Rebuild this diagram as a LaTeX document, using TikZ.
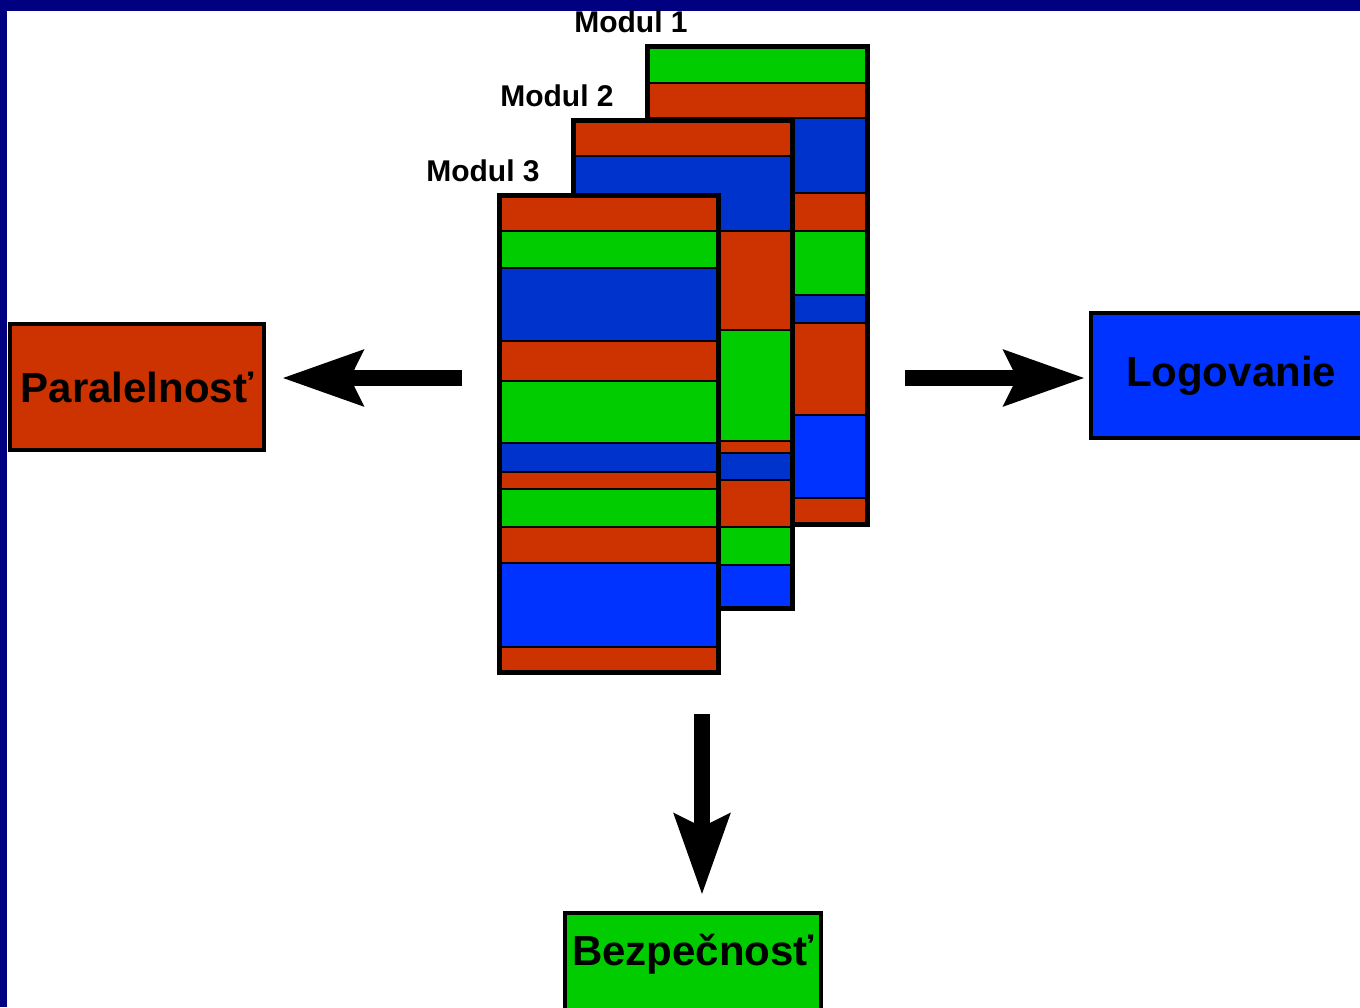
\documentclass[tikz,border=0pt]{standalone}
\usepackage{fontspec}
\setmainfont{Liberation Sans}
\usetikzlibrary{arrows.meta,positioning,calc}
\definecolor{modNavy}{HTML}{000080}
\definecolor{modRed}{HTML}{CC3300}
\definecolor{modGreen}{HTML}{00CC00}
\definecolor{modBlue}{HTML}{0033CC}
\definecolor{modBright}{HTML}{0033FF}

\begin{document}
\begin{tikzpicture}[x=0.5pt,y=-0.5pt,font=\bfseries,
  stripe/.style={draw=black,line width=1.3pt},
  modframe/.style={draw=black,line width=2.5pt,inner sep=0pt,outer sep=0pt,anchor=north west},
  modlabel/.style={font=\fontsize{15}{18}\selectfont\bfseries,anchor=east,inner sep=0pt},
  aspect/.style={draw=black,line width=2pt,inner sep=0pt,
                 font=\fontsize{21}{25}\selectfont\bfseries},
  bigarrow/.style={line width=8pt,-{Stealth[length=40pt,width=27pt,inset=6pt]}}]
  \useasboundingbox (0,0) rectangle (1360,1007);
  \clip (0,0) rectangle (1360,1007);
  \fill[white] (0,0) rectangle (1360,1007);
  \fill[modNavy] (0,0) rectangle (1360,11);
  \fill[modNavy] (0,0) rectangle (7,1007);

  % module stacks, back to front
  \foreach \ya/\yb/\c in {46.5/83/modGreen,83/118/modRed,118/193/modBlue,193/231/modRed,
      231/295/modGreen,295/323/modBlue,323/415/modRed,415/498/modBright,498/524.5/modRed}
    \draw[stripe,fill=\c] (647.5,\ya) rectangle (867.5,\yb);
  \node[modframe,minimum width=110pt,minimum height=239pt] (m1) at (647.5,46.5) {};
  \node[modlabel] (lab1) at ($(m1.north west)+(40.5,-24.5)$) {Modul 1};

  \foreach \ya/\yb/\c in {120.5/156/modRed,156/231/modBlue,231/330/modRed,330/441/modGreen,
      441/453/modRed,453/480/modBlue,480/527/modRed,527/565/modGreen,565/608.5/modBright}
    \draw[stripe,fill=\c] (573.5,\ya) rectangle (792.5,\yb);
  \node[modframe,minimum width=109.5pt,minimum height=244pt] (m2) at (573.5,120.5) {};
  \node[modlabel] (lab2) at ($(m2.north west)+(40.5,-24.5)$) {Modul 2};

  \foreach \ya/\yb/\c in {195.5/231/modRed,231/268/modGreen,268/341/modBlue,341/381/modRed,
      381/443/modGreen,443/472/modBlue,472/489/modRed,489/527/modGreen,527/563/modRed,
      563/647/modBright,647/672.5/modRed}
    \draw[stripe,fill=\c] (499.5,\ya) rectangle (718.5,\yb);
  \node[modframe,minimum width=109.5pt,minimum height=238.5pt] (m3) at (499.5,195.5) {};
  \node[modlabel] (lab3) at ($(m3.north west)+(40.5,-24.5)$) {Modul 3};

  % aspects
  \node[aspect,fill=modRed,minimum width=127pt,minimum height=63pt] (para) at (137,387) {Paralelnosť};
  \node[aspect,fill=modBright,minimum width=140pt,minimum height=62.5pt] (logo) at (1231,375.5) {Logovanie};
  \node[aspect,fill=modGreen,minimum width=128pt,inner ysep=0pt,text height=26pt,
        text depth=40pt,anchor=north] (bez) at (693,911) {Bezpečnosť};

  \coordinate (lstart) at (462,378);
  \coordinate (rstart) at (905,378);
  \coordinate (dstart) at (702,714);
  \draw[bigarrow,shorten >=8pt] (lstart) -- (lstart -| para.east);
  \draw[bigarrow,shorten >=2pt] (rstart) -- (rstart -| logo.west);
  \draw[bigarrow,shorten >=8pt] (dstart) -- (dstart |- bez.north);
\end{tikzpicture}
\end{document}
